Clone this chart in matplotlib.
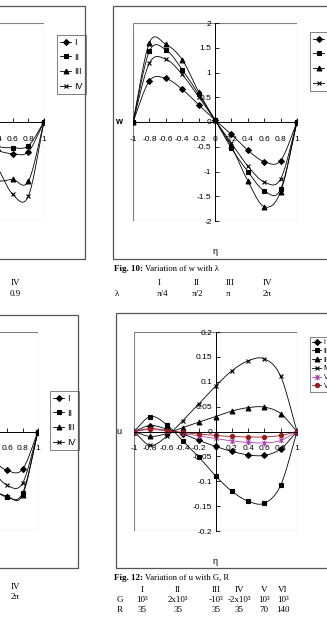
import numpy as np
import matplotlib
matplotlib.use('Agg')
import matplotlib.pyplot as plt
from matplotlib.patches import Rectangle
from matplotlib.path import Path
from matplotlib.lines import Line2D
from matplotlib.ticker import FuncFormatter

W, H = 327, 636
SANS = ['Liberation Sans Narrow', 'Liberation Sans', 'DejaVu Sans']
SERIF = ['Liberation Serif', 'DejaVu Serif']
plt.rcParams['font.family'] = SANS

# data (eta grid shared by all four charts)
eta = [-1, -0.8, -0.6, -0.4, -0.2, 0, 0.2, 0.4, 0.6, 0.8, 1]

# top-left chart (only its right edge is on the page crop)
tl_I = [0, 0.30, 0.32, 0.28, 0.15, 0, -0.15, -0.28, -0.32, -0.30, 0]
tl_II = [0, 0.24, 0.26, 0.24, 0.12, 0, -0.12, -0.24, -0.26, -0.24, 0]
tl_III = [0, 0.60, 0.58, 0.58, 0.35, 0, -0.35, -0.58, -0.58, -0.60, 0]
tl_IV = [0, 0.75, 0.73, 0.45, 0.25, 0, -0.25, -0.45, -0.73, -0.75, 0]

# Fig. 10: w vs eta for lambda
w_I = [0, 0.83, 0.88, 0.66, 0.35, 0.04, -0.25, -0.57, -0.80, -0.78, 0]
w_II = [0, 1.43, 1.46, 1.06, 0.56, 0.04, -0.53, -1.00, -1.39, -1.36, 0]
w_III = [0, 1.60, 1.57, 1.26, 0.61, 0.04, -0.49, -1.19, -1.71, -1.41, 0]
w_IV = [0, 1.19, 1.27, 0.96, 0.51, 0.04, -0.43, -0.89, -1.21, -1.15, 0]

# bottom-left chart (only right edge visible)
bl_I = [0, 0.38, 0.39, 0.28, 0.14, 0, -0.14, -0.28, -0.39, -0.38, 0]
bl_II = [0, 0.62, 0.66, 0.55, 0.30, 0, -0.30, -0.55, -0.66, -0.62, 0]
bl_III = [0, 0.64, 0.65, 0.56, 0.30, 0, -0.30, -0.56, -0.65, -0.64, 0]
bl_IV = [0, 0.52, 0.54, 0.38, 0.20, 0, -0.20, -0.38, -0.54, -0.52, 0]

# Fig. 12: u vs eta for G, R
u_I = [0, 0.012, 0.005, -0.005, -0.018, -0.030, -0.040, -0.047, -0.048, -0.035, 0]
u_II = [0, 0.030, 0.014, -0.019, -0.052, -0.089, -0.120, -0.140, -0.144, -0.108, 0]
u_III = [0, -0.010, -0.004, 0.008, 0.019, 0.030, 0.041, 0.048, 0.049, 0.036, 0]
u_IV = [0, -0.028, -0.010, 0.022, 0.056, 0.091, 0.122, 0.142, 0.146, 0.111, 0]
u_V = [0, 0.004, 0.001, -0.004, -0.009, -0.014, -0.019, -0.022, -0.023, -0.018, 0]
u_VI = [0, 0.006, 0.002, -0.002, -0.005, -0.008, -0.010, -0.011, -0.011, -0.008, 0]

case_labels = ['I', 'II', 'III', 'IV', 'V', 'VI']
lam_vals = ['π/4', 'π/2', 'π', '2π']
G_vals = ['10³', '2x10³', '-10³', '-2x10³', '10³', '10³']
R_vals = ['35', '35', '35', '35', '70', '140']

star = Path([(-1, -1), (1, 1), (-1, 1), (1, -1), (0, -1.3), (0, 1.3)],
            [Path.MOVETO, Path.LINETO, Path.MOVETO, Path.LINETO, Path.MOVETO, Path.LINETO])
styles = [('D', 3.0, 'black'), ('s', 3.0, 'black'), ('^', 3.5, 'black'),
          ('x', 3.5, 'black'), (star, 4.0, '#b040b0'), ('o', 3.0, '#9b1b1b')]


def smooth(x, y, n=16):
    # catmull-rom curve through the points, like excel's smoothed line
    x = np.asarray(x, float)
    y = np.asarray(y, float)
    px = np.concatenate([[2 * x[0] - x[1]], x, [2 * x[-1] - x[-2]]])
    py = np.concatenate([[2 * y[0] - y[1]], y, [2 * y[-1] - y[-2]]])
    t = np.linspace(0, 1, n, endpoint=False)
    xs, ys = [], []
    for i in range(len(x) - 1):
        for p, out in ((px, xs), (py, ys)):
            p0, p1, p2, p3 = p[i:i + 4]
            out.append(0.5 * (2 * p1 + (p2 - p0) * t + (2 * p0 - 5 * p1 + 4 * p2 - p3) * t ** 2
                              + (3 * p1 - p0 - 3 * p2 + p3) * t ** 3))
    xs.append([x[-1]])
    ys.append([y[-1]])
    return np.concatenate(xs), np.concatenate(ys)


fig = plt.figure(figsize=(W / 100, H / 100), dpi=100)


def fx(x):
    return x / W


def fy(y):
    return 1 - y / H


def frame(l, t, r, b):
    fig.patches.append(Rectangle((fx(l), fy(b)), (r - l) / W, (b - t) / H, transform=fig.transFigure,
                                 fill=False, ec='#555555', lw=0.9))


def chart(box, series, ylim, ystep, ylabel, leg_xy, legsize=6.5, legspace=0.65, ybold=False):
    l, t, r, b = box
    ax = fig.add_axes([fx(l), fy(b), (r - l) / W, (b - t) / H])
    ax.patch.set_visible(False)
    for i, ys in enumerate(series):
        m, ms, c = styles[i]
        sx, sy = smooth(eta, ys)
        ax.plot(sx, sy, color=c, lw=0.6)
        ax.plot(eta, ys, ls='none', marker=m, ms=ms, color=c, mec=c, mew=0.8)
    ax.set_xlim(-1, 1)
    ax.set_ylim(*ylim)
    ax.add_patch(Rectangle((0, 0), 1, 1, transform=ax.transAxes, fill=False, ec='#808080', lw=0.8))
    ax.spines['top'].set_visible(False)
    ax.spines['right'].set_visible(False)
    ax.spines['left'].set_position(('data', 0))
    ax.spines['bottom'].set_position(('data', 0))
    for s in ('left', 'bottom'):
        ax.spines[s].set_linewidth(0.7)
    ax.set_xticks(np.linspace(-1, 1, 11))
    ax.set_yticks(np.arange(ylim[0], ylim[1] + ystep / 2, ystep))
    fmt = FuncFormatter(lambda v, _: '%g' % (round(v, 3) + 0.0))
    ax.xaxis.set_major_formatter(fmt)
    ax.yaxis.set_major_formatter(fmt)
    ax.tick_params(axis='x', direction='in', length=3, width=0.6, pad=10, labelsize=6)
    ax.tick_params(axis='y', direction='in', length=3, width=0.6, pad=2.5, labelsize=6)
    ax.set_ylabel(ylabel, rotation=0, fontsize=6.5, fontweight='bold' if ybold else 'normal',
                  va='center', ha='center')
    ax.yaxis.set_label_coords((119 - l) / (r - l) if l > 0 else -0.09, 0.5)
    ax.set_xlabel('η', fontsize=6.5, va='center')
    ax.xaxis.set_label_coords(0.5, -30 / (b - t))
    handles = [Line2D([], [], color=styles[i][2], marker=styles[i][0], ms=styles[i][1],
                      mec=styles[i][2], mew=0.8, lw=0.6) for i in range(len(series))]
    leg = ax.legend(handles, case_labels[:len(series)], loc='upper left',
                    bbox_to_anchor=(fx(leg_xy[0]), fy(leg_xy[1])), bbox_transform=fig.transFigure,
                    borderaxespad=0, fancybox=False, edgecolor='#808080', framealpha=1,
                    fontsize=legsize, handlelength=1.3, handletextpad=0.35,
                    labelspacing=legspace, borderpad=0.3)
    leg.get_frame().set_linewidth(0.7)
    return ax


# outer chart frames
frame(-200, 6, 85, 259)
frame(113, 6, 360, 259)
frame(-200, 315, 78, 568)
frame(116, 313, 360, 568)

chart((-113, 23, 44, 221), [tl_I, tl_II, tl_III, tl_IV], (-1, 1), 0.5, 'u', (57, 35))
ax10 = chart((133, 23, 297, 221), [w_I, w_II, w_III, w_IV], (-2, 2), 0.5, 'w', (310, 32), ybold=True)
chart((-117, 332, 38, 531), [bl_I, bl_II, bl_III, bl_IV], (-1, 1), 0.5, 'u', (50, 391))
ax12 = chart((134, 332, 297, 531), [u_I, u_II, u_III, u_IV, u_V, u_VI], (-0.2, 0.2), 0.05, 'u',
             (310, 337), legsize=5, legspace=0.25)

# captions
cap = dict(family=SERIF, fontsize=6.5, va='center')


def caption(ax, x, y, num, rest):
    t = fig.text(fx(x), fy(y), num, fontweight='bold', ha='left', **cap)
    ax.annotate(rest, xy=(1, 0.5), xycoords=t, xytext=(1.5, 0), textcoords='offset points',
                ha='left', family=SERIF, fontsize=6.2, va='center')


caption(ax10, 114, 269, 'Fig. 10:', 'Variation of w with λ')
for x, lab in zip([159, 197, 230, 267], case_labels[:4]):
    fig.text(fx(x), fy(283), lab, ha='center', **cap)
fig.text(fx(115), fy(294), 'λ', ha='left', **cap)
for x, v in zip([163, 198, 228, 267], lam_vals):
    fig.text(fx(x), fy(294), v, ha='center', **cap)

caption(ax12, 114, 578, 'Fig. 12:', 'Variation of u with G, R')
cols12 = [142, 178, 216, 239, 264, 283]
for x, lab, g, rv in zip(cols12, case_labels, G_vals, R_vals):
    fig.text(fx(x), fy(590), lab, ha='center', **cap)
    fig.text(fx(x), fy(600), g, ha='center', **cap)
    fig.text(fx(x), fy(610), rv, ha='center', **cap)
fig.text(fx(120), fy(600), 'G', ha='center', **cap)
fig.text(fx(120), fy(610), 'R', ha='center', **cap)

# left column caption fragments
fig.text(fx(15), fy(283), 'IV', ha='center', **cap)
fig.text(fx(15), fy(294), '0.9', ha='center', **cap)
fig.text(fx(15), fy(587), 'IV', ha='center', **cap)
fig.text(fx(15), fy(597), '2π', ha='center', **cap)

fig.savefig('out.png', dpi=100)
